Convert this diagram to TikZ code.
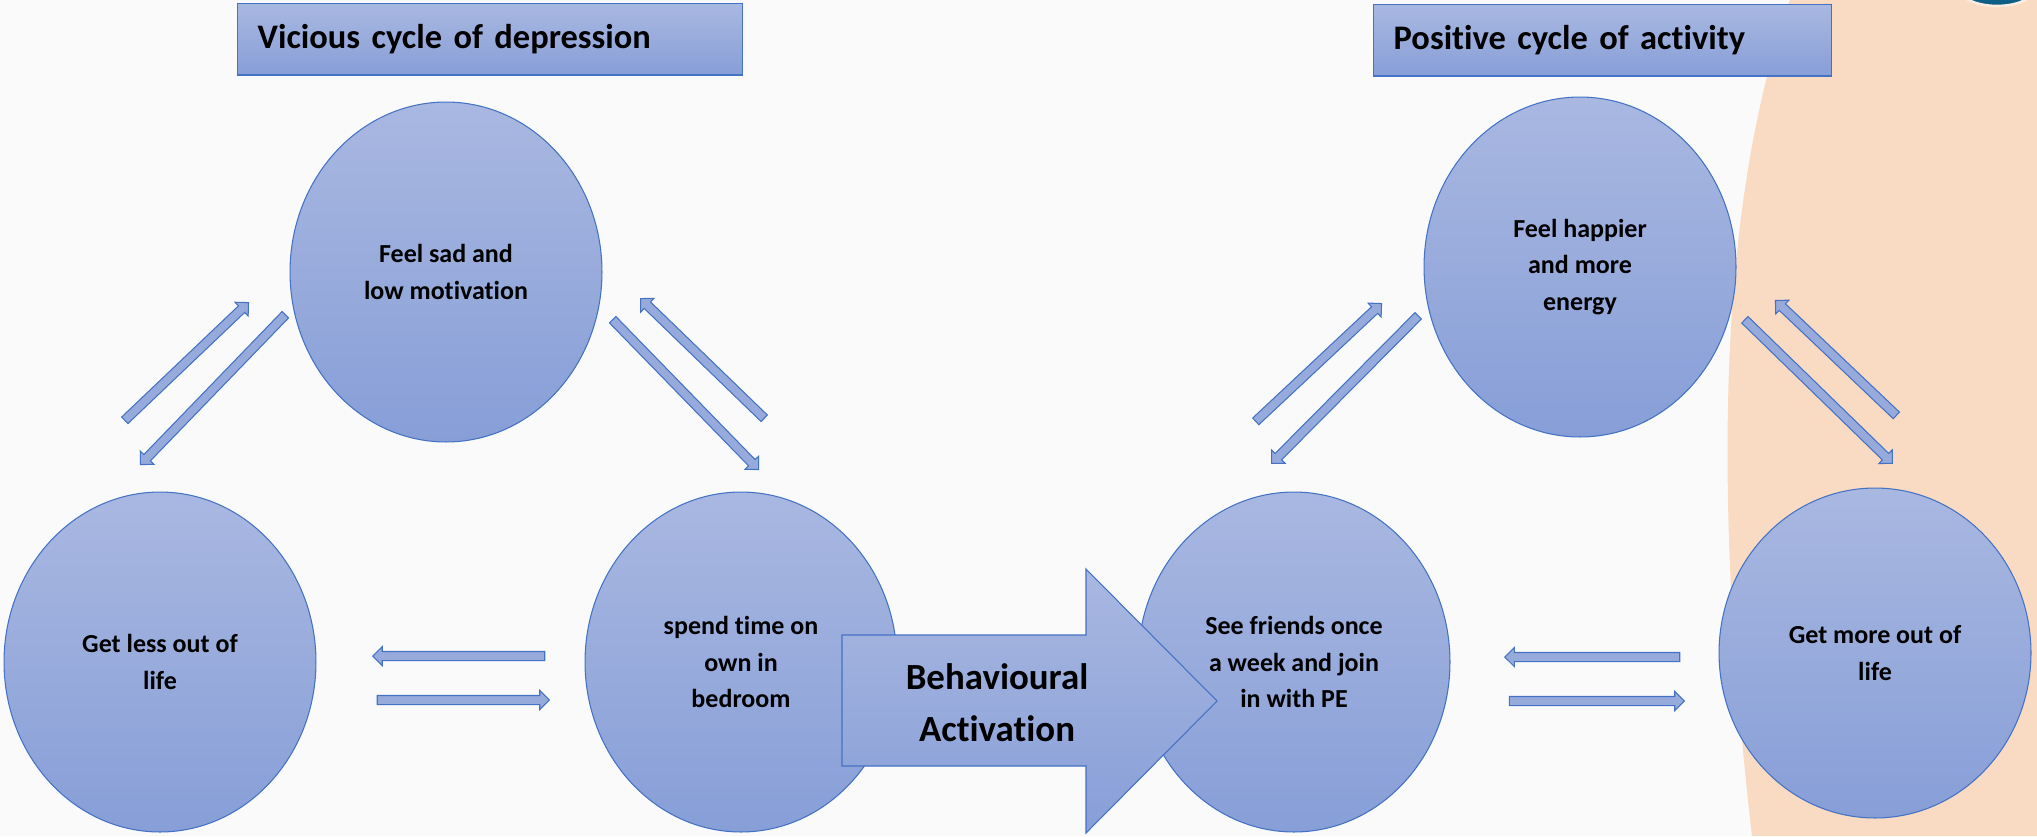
\documentclass[tikz,border=0pt]{standalone}
\usepackage{fontspec}
\setmainfont{Carlito}[Ligatures=NoCommon]
\usepackage{tikz}
\usetikzlibrary{shapes.geometric,shapes.arrows,calc}
\usepackage{xcolor}

\definecolor{paper}{HTML}{FAFAFA}
\definecolor{peach}{HTML}{F9DAC2}
\definecolor{tealdark}{HTML}{0D5F86}
\definecolor{edgeblue}{HTML}{4472C4}
\definecolor{filltop}{HTML}{A9B8E1}
\definecolor{fillbot}{HTML}{879ED7}
\definecolor{flowfill}{HTML}{97AADC}

% block arrow between two named points
\newcommand{\flowarrow}[2]{%
  \path let \p1=($(#2)-(#1)$), \n1={veclen(\x1,\y1)} in
    (#1) -- (#2) node[flow, midway, sloped, allow upside down, minimum height=\n1] {};}

\begin{document}
\begin{tikzpicture}[
            x=0.02cm, y=-0.02cm,
            circ/.style={ellipse, draw=edgeblue, line width=0.6pt, top color=filltop, bottom color=fillbot, minimum width=6.24cm, minimum height=6.8cm, inner sep=0pt, align=center, font=\fontsize{14.8}{21}\selectfont\bfseries},
            titlebox/.style={rectangle, draw=edgeblue, line width=0.8pt, top color=filltop, bottom color=fillbot, anchor=north west, minimum height=1.43cm, inner xsep=0.4cm, align=left, font=\fontsize{19.6}{23}\selectfont\bfseries},
            flow/.style={single arrow, draw=edgeblue, line width=0.6pt, fill=flowfill, inner sep=0.08cm, outer sep=0pt, single arrow head extend=0.1cm, single arrow tip angle=90},
            bigarrow/.style={draw=edgeblue, line width=0.6pt, top color=filltop, bottom color=fillbot},
            bigtext/.style={align=center, font=\fontsize{21}{29.5}\selectfont\bfseries}
        ]
            % --- BACKGROUND ---
            \fill[paper] (0,0) rectangle (2037,836);
            \useasboundingbox (0,0) rectangle (2037,836);
            \fill[peach] (1790,0) .. controls (1730,170) and (1705,430) .. (1752,836) -- (2037,836) -- (2037,0) -- cycle;
            \draw[tealdark, fill=tealdark, draw=peach!50!white, line width=1.5pt] (1997,-12) ellipse (38 and 18);

            % --- VICIOUS CYCLE ---
            \node[circ] (sad) at (446,272) {Feel sad and\\low motivation};
            \node[circ] (less) at (160,662) {Get less out of\\life};
            \node[circ] (alone) at (741,662) {spend time on\\own in\\bedroom};

            % --- POSITIVE CYCLE ---
            \node[circ] (happy) at (1580,267) {Feel happier\\and more\\energy};
            \node[circ] (friends) at (1294,662) {See friends once\\a week and join\\in with PE};
            \node[circ, minimum height=6.6cm] (more) at (1875,653) {Get more out of\\life};

            % --- END POINTS OF THE LINKS ---
            \coordinate (lessUpA) at (123,422);   \coordinate (lessUpB) at (247,304);
            \coordinate (sadDownA) at (287,313);  \coordinate (sadDownB) at (142,463);
            \coordinate (aloneUpA) at (766,420);  \coordinate (aloneUpB) at (642,300);
            \coordinate (sadRightA) at (611,318); \coordinate (sadRightB) at (757,468);
            \coordinate (aloneLeftA) at (547,656); \coordinate (aloneLeftB) at (375,656);
            \coordinate (lessRightA) at (375,700); \coordinate (lessRightB) at (547,700);

            \coordinate (friendsUpA) at (1254,423);  \coordinate (friendsUpB) at (1380,305);
            \coordinate (happyDownA) at (1420,314);  \coordinate (happyDownB) at (1273,462);
            \coordinate (moreUpA) at (1898,417);     \coordinate (moreUpB) at (1777,302);
            \coordinate (happyRightA) at (1743,318); \coordinate (happyRightB) at (1891,462);
            \coordinate (moreLeftA) at (1682,657);   \coordinate (moreLeftB) at (1507,657);
            \coordinate (friendsRightA) at (1507,701); \coordinate (friendsRightB) at (1682,701);

            % --- LINKS ---
            \flowarrow{lessUpA}{lessUpB}
            \flowarrow{sadDownA}{sadDownB}
            \flowarrow{aloneUpA}{aloneUpB}
            \flowarrow{sadRightA}{sadRightB}
            \flowarrow{aloneLeftA}{aloneLeftB}
            \flowarrow{lessRightA}{lessRightB}

            \flowarrow{friendsUpA}{friendsUpB}
            \flowarrow{happyDownA}{happyDownB}
            \flowarrow{moreUpA}{moreUpB}
            \flowarrow{happyRightA}{happyRightB}
            \flowarrow{moreLeftA}{moreLeftB}
            \flowarrow{friendsRightA}{friendsRightB}

            % --- BEHAVIOURAL ACTIVATION ---
            \draw[bigarrow] (842,635) -- (1086,635) -- (1086,569) -- (1217,701) -- (1086,833) -- (1086,766) -- (842,766) -- cycle;
            \node[bigtext] (activation) at (997,703) {Behavioural\\Activation};

            % --- TITLES ---
            \node[titlebox, minimum width=10.1cm, text width=9.3cm] (vicious) at (237,3) {Vicious cycle of depression};
            \node[titlebox, minimum width=9.16cm, text width=8.36cm] (positive) at (1373,4) {Positive cycle of activity};

        \end{tikzpicture}
\end{document}
